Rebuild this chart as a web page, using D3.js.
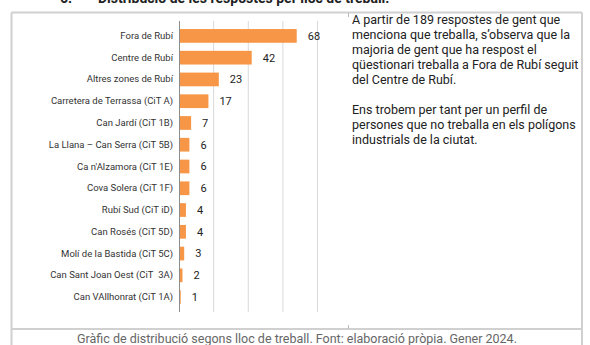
<!DOCTYPE html>
<html>
<head>
<meta charset="utf-8">
<script src="https://cdn.jsdelivr.net/npm/d3@7"></script>
<style>
  html, body { margin: 0; padding: 0; background: #fff; }
  svg { display: block; font-family: Roboto, "Noto Sans", sans-serif; }
</style>
</head>
<body>
<svg id="chart" width="590" height="345"></svg>
<script>
// Llocs de treball i nombre de respostes
const categories = [
  "Fora de Rubí",
  "Centre de Rubí",
  "Altres zones de Rubí",
  "Carretera de Terrassa (CiT A)",
  "Can Jardí (CiT 1B)",
  "La Llana – Can Serra (CiT 5B)",
  "Ca n'Alzamora (CiT 1E)",
  "Cova Solera (CiT 1F)",
  "Rubí Sud (CiT iD)",
  "Can Rosés (CiT 5D)",
  "Molí de la Bastida (CiT 5C)",
  "Can Sant Joan Oest (CiT\u00a0\u00a03A)",
  "Can VAllhonrat (CiT 1A)"
];
const values = [68, 42, 23, 17, 7, 6, 6, 6, 4, 4, 3, 2, 1];
const xTicks = [0, 20, 40, 60, 80];

const heading = ["6.", "Distribució de les respostes per lloc de treball."];
const paragraphs = [
  ["A partir de 189 respostes de gent que",
   "menciona que treballa, s’observa que la",
   "majoria de gent que ha respost el",
   "qüestionari treballa a Fora de Rubí seguit",
   "del Centre de Rubí."],
  ["Ens trobem per tant per un perfil de",
   "persones que no treballa en els polígons",
   "industrials de la ciutat."]
];
const caption = "Gràfic de distribució segons lloc de treball. Font: elaboració pròpia. Gener 2024.";

const svg = d3.select("#chart");
const borderColor = "#d0d0d0";

// Títol de la secció, a la vora superior de la pàgina
svg.append("text").attr("x", 60).attr("y", 3)
  .attr("font-size", 14).attr("font-weight", "bold").attr("fill", "#222")
  .text(heading[0]);
svg.append("text").attr("x", 98).attr("y", 3)
  .attr("font-size", 14).attr("font-weight", "bold").attr("fill", "#222")
  .text(heading[1]);

// Marc de la taula
const box = { left: 11.5, right: 582, top: 12.5, mid: 329, bottom: 346 };
const frame = svg.append("g").attr("stroke", borderColor).attr("stroke-width", 2).attr("fill", "none");
frame.append("line").attr("x1", box.left).attr("x2", box.right).attr("y1", box.top).attr("y2", box.top);
frame.append("line").attr("x1", box.left).attr("x2", box.right).attr("y1", box.mid).attr("y2", box.mid);
frame.append("line").attr("x1", box.left).attr("x2", box.left).attr("y1", box.top).attr("y2", box.bottom);
frame.append("line").attr("x1", box.right).attr("x2", box.right).attr("y1", box.top).attr("y2", box.bottom);
// petites marques de la divisió entre columnes
const stubs = svg.append("g").attr("stroke", "#bbb").attr("stroke-width", 1);
stubs.append("line").attr("x1", 348.5).attr("x2", 348.5).attr("y1", 13).attr("y2", 17);
stubs.append("line").attr("x1", 348.5).attr("x2", 348.5).attr("y1", 325).attr("y2", 329);

// Escales
const x = d3.scaleLinear().domain([0, 80]).range([179, 317.5]);
const y = d3.scaleBand().domain(categories).range([21, 312])
  .paddingInner(0.37).paddingOuter(0.37);

// Línies de quadrícula
svg.append("g")
  .selectAll("line")
  .data(xTicks.filter(t => t > 0))
  .join("line")
  .attr("x1", d => x(d)).attr("x2", d => x(d))
  .attr("y1", 21).attr("y2", 312)
  .attr("stroke", "#d9d9d9").attr("stroke-width", 1);

// Barres
svg.append("g")
  .selectAll("rect")
  .data(values)
  .join("rect")
  .attr("x", x(0))
  .attr("y", (d, i) => y(categories[i]))
  .attr("width", d => x(d) - x(0))
  .attr("height", y.bandwidth())
  .attr("fill", "#F79646");

// Eix vertical amb les etiquetes
const yAxis = svg.append("g")
  .attr("transform", `translate(${x(0)},0)`)
  .call(d3.axisLeft(y).tickSize(0).tickPadding(6));
yAxis.select(".domain").attr("stroke", "#8c8c8c").attr("stroke-width", 1)
  .attr("d", "M0.5,21V312");
yAxis.selectAll("text")
  .attr("font-size", 9.5).attr("fill", "#333")
  .attr("font-family", "Roboto, sans-serif");

// Valors
svg.append("g")
  .selectAll("text")
  .data(values)
  .join("text")
  .attr("x", d => x(d) + 11)
  .attr("y", (d, i) => y(categories[i]) + y.bandwidth() / 2)
  .attr("dy", "0.35em")
  .attr("font-size", 11).attr("fill", "#222")
  .text(d => d);

// Text explicatiu
const para = svg.append("g").attr("font-size", 12.5).attr("fill", "#222");
let lineY = 23.5;
paragraphs.forEach(p => {
  p.forEach(line => {
    para.append("text").attr("x", 352).attr("y", lineY).text(line);
    lineY += 15;
  });
  lineY += 15;
});

// Peu del gràfic
svg.append("text")
  .attr("x", 297).attr("y", 343)
  .attr("text-anchor", "middle")
  .attr("font-size", 12.5).attr("fill", "#666")
  .text(caption);
</script>
</body>
</html>
